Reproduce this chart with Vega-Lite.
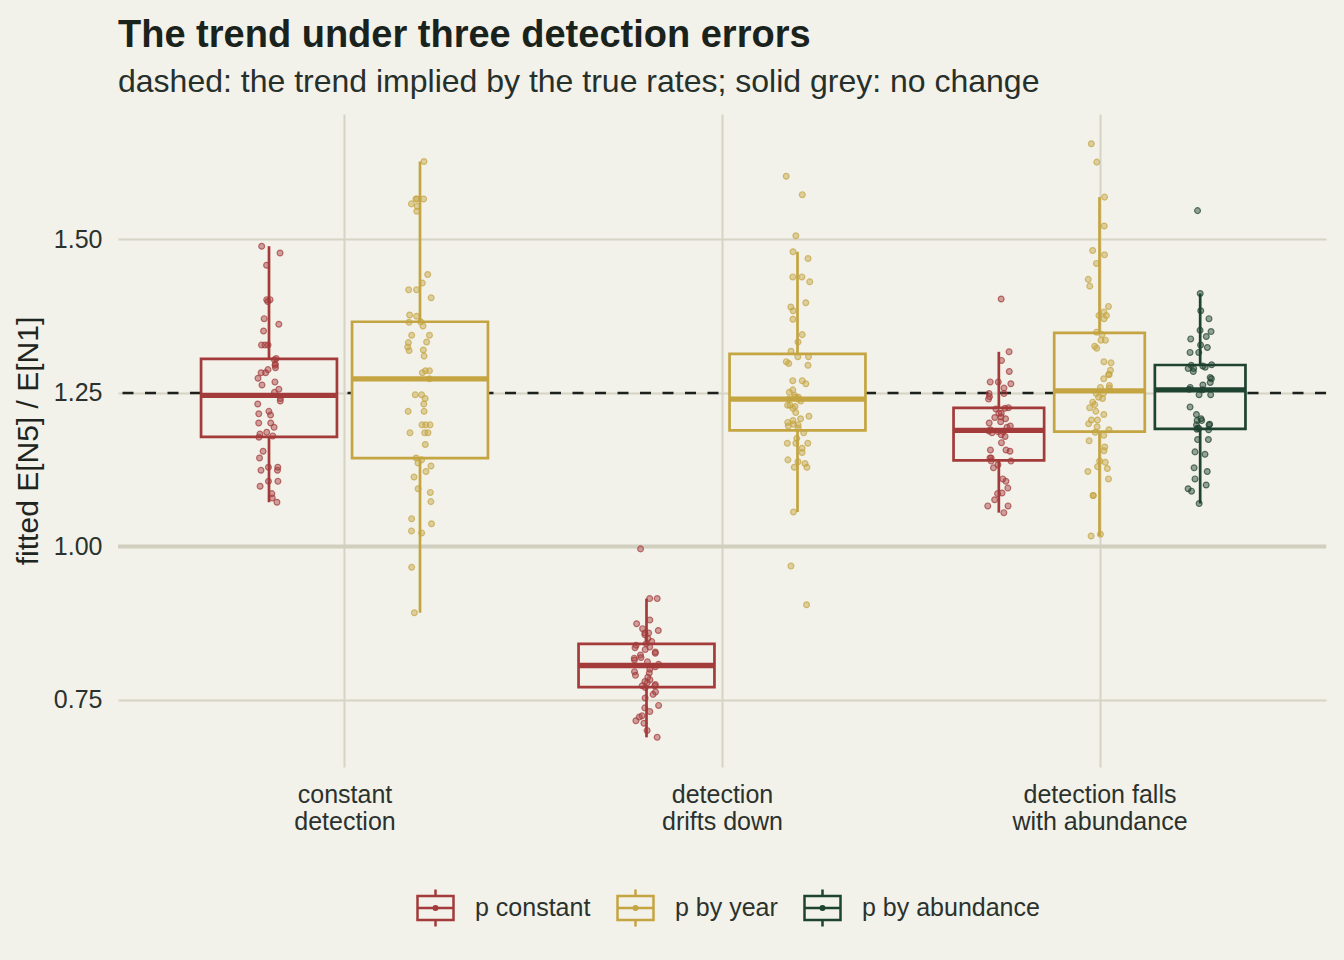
{
  "$schema": "https://vega.github.io/schema/vega-lite/v6.json",
  "width": 1208,
  "height": 653,
  "autosize": {"type": "none"},
  "padding": {"left": 118, "top": 114, "right": 18, "bottom": 193},
  "background": "#F2F1EA",
  "config": {
    "view": {"stroke": null},
    "font": "Liberation Sans"
  },
  "title": {
    "text": "The trend under three detection errors",
    "subtitle": "dashed: the trend implied by the true rates; solid grey: no change",
    "anchor": "start",
    "frame": "group",
    "font": "Liberation Sans",
    "fontSize": 38,
    "fontWeight": "bold",
    "color": "#1A221C",
    "subtitleFont": "Liberation Sans",
    "subtitleFontSize": 32,
    "subtitleColor": "#26302A",
    "subtitlePadding": 12,
    "offset": 16
  },
  "data": {
    "values": [
      {"scenario": "constant detection", "model": "p constant", "ratio": 1.489},
      {"scenario": "constant detection", "model": "p constant", "ratio": 1.478},
      {"scenario": "constant detection", "model": "p constant", "ratio": 1.458},
      {"scenario": "constant detection", "model": "p constant", "ratio": 1.402},
      {"scenario": "constant detection", "model": "p constant", "ratio": 1.402},
      {"scenario": "constant detection", "model": "p constant", "ratio": 1.399},
      {"scenario": "constant detection", "model": "p constant", "ratio": 1.371},
      {"scenario": "constant detection", "model": "p constant", "ratio": 1.362},
      {"scenario": "constant detection", "model": "p constant", "ratio": 1.351},
      {"scenario": "constant detection", "model": "p constant", "ratio": 1.328},
      {"scenario": "constant detection", "model": "p constant", "ratio": 1.328},
      {"scenario": "constant detection", "model": "p constant", "ratio": 1.328},
      {"scenario": "constant detection", "model": "p constant", "ratio": 1.306},
      {"scenario": "constant detection", "model": "p constant", "ratio": 1.304},
      {"scenario": "constant detection", "model": "p constant", "ratio": 1.297},
      {"scenario": "constant detection", "model": "p constant", "ratio": 1.295},
      {"scenario": "constant detection", "model": "p constant", "ratio": 1.291},
      {"scenario": "constant detection", "model": "p constant", "ratio": 1.288},
      {"scenario": "constant detection", "model": "p constant", "ratio": 1.283},
      {"scenario": "constant detection", "model": "p constant", "ratio": 1.283},
      {"scenario": "constant detection", "model": "p constant", "ratio": 1.274},
      {"scenario": "constant detection", "model": "p constant", "ratio": 1.268},
      {"scenario": "constant detection", "model": "p constant", "ratio": 1.263},
      {"scenario": "constant detection", "model": "p constant", "ratio": 1.256},
      {"scenario": "constant detection", "model": "p constant", "ratio": 1.251},
      {"scenario": "constant detection", "model": "p constant", "ratio": 1.241},
      {"scenario": "constant detection", "model": "p constant", "ratio": 1.237},
      {"scenario": "constant detection", "model": "p constant", "ratio": 1.232},
      {"scenario": "constant detection", "model": "p constant", "ratio": 1.220},
      {"scenario": "constant detection", "model": "p constant", "ratio": 1.216},
      {"scenario": "constant detection", "model": "p constant", "ratio": 1.214},
      {"scenario": "constant detection", "model": "p constant", "ratio": 1.201},
      {"scenario": "constant detection", "model": "p constant", "ratio": 1.201},
      {"scenario": "constant detection", "model": "p constant", "ratio": 1.194},
      {"scenario": "constant detection", "model": "p constant", "ratio": 1.186},
      {"scenario": "constant detection", "model": "p constant", "ratio": 1.183},
      {"scenario": "constant detection", "model": "p constant", "ratio": 1.180},
      {"scenario": "constant detection", "model": "p constant", "ratio": 1.178},
      {"scenario": "constant detection", "model": "p constant", "ratio": 1.155},
      {"scenario": "constant detection", "model": "p constant", "ratio": 1.144},
      {"scenario": "constant detection", "model": "p constant", "ratio": 1.129},
      {"scenario": "constant detection", "model": "p constant", "ratio": 1.129},
      {"scenario": "constant detection", "model": "p constant", "ratio": 1.124},
      {"scenario": "constant detection", "model": "p constant", "ratio": 1.124},
      {"scenario": "constant detection", "model": "p constant", "ratio": 1.106},
      {"scenario": "constant detection", "model": "p constant", "ratio": 1.106},
      {"scenario": "constant detection", "model": "p constant", "ratio": 1.098},
      {"scenario": "constant detection", "model": "p constant", "ratio": 1.086},
      {"scenario": "constant detection", "model": "p constant", "ratio": 1.079},
      {"scenario": "constant detection", "model": "p constant", "ratio": 1.072},
      {"scenario": "constant detection", "model": "p by year", "ratio": 1.627},
      {"scenario": "constant detection", "model": "p by year", "ratio": 1.566},
      {"scenario": "constant detection", "model": "p by year", "ratio": 1.566},
      {"scenario": "constant detection", "model": "p by year", "ratio": 1.566},
      {"scenario": "constant detection", "model": "p by year", "ratio": 1.558},
      {"scenario": "constant detection", "model": "p by year", "ratio": 1.554},
      {"scenario": "constant detection", "model": "p by year", "ratio": 1.546},
      {"scenario": "constant detection", "model": "p by year", "ratio": 1.443},
      {"scenario": "constant detection", "model": "p by year", "ratio": 1.429},
      {"scenario": "constant detection", "model": "p by year", "ratio": 1.418},
      {"scenario": "constant detection", "model": "p by year", "ratio": 1.418},
      {"scenario": "constant detection", "model": "p by year", "ratio": 1.405},
      {"scenario": "constant detection", "model": "p by year", "ratio": 1.377},
      {"scenario": "constant detection", "model": "p by year", "ratio": 1.375},
      {"scenario": "constant detection", "model": "p by year", "ratio": 1.366},
      {"scenario": "constant detection", "model": "p by year", "ratio": 1.365},
      {"scenario": "constant detection", "model": "p by year", "ratio": 1.359},
      {"scenario": "constant detection", "model": "p by year", "ratio": 1.344},
      {"scenario": "constant detection", "model": "p by year", "ratio": 1.344},
      {"scenario": "constant detection", "model": "p by year", "ratio": 1.333},
      {"scenario": "constant detection", "model": "p by year", "ratio": 1.332},
      {"scenario": "constant detection", "model": "p by year", "ratio": 1.325},
      {"scenario": "constant detection", "model": "p by year", "ratio": 1.320},
      {"scenario": "constant detection", "model": "p by year", "ratio": 1.319},
      {"scenario": "constant detection", "model": "p by year", "ratio": 1.310},
      {"scenario": "constant detection", "model": "p by year", "ratio": 1.286},
      {"scenario": "constant detection", "model": "p by year", "ratio": 1.286},
      {"scenario": "constant detection", "model": "p by year", "ratio": 1.283},
      {"scenario": "constant detection", "model": "p by year", "ratio": 1.273},
      {"scenario": "constant detection", "model": "p by year", "ratio": 1.247},
      {"scenario": "constant detection", "model": "p by year", "ratio": 1.247},
      {"scenario": "constant detection", "model": "p by year", "ratio": 1.241},
      {"scenario": "constant detection", "model": "p by year", "ratio": 1.232},
      {"scenario": "constant detection", "model": "p by year", "ratio": 1.220},
      {"scenario": "constant detection", "model": "p by year", "ratio": 1.220},
      {"scenario": "constant detection", "model": "p by year", "ratio": 1.198},
      {"scenario": "constant detection", "model": "p by year", "ratio": 1.198},
      {"scenario": "constant detection", "model": "p by year", "ratio": 1.198},
      {"scenario": "constant detection", "model": "p by year", "ratio": 1.185},
      {"scenario": "constant detection", "model": "p by year", "ratio": 1.185},
      {"scenario": "constant detection", "model": "p by year", "ratio": 1.185},
      {"scenario": "constant detection", "model": "p by year", "ratio": 1.166},
      {"scenario": "constant detection", "model": "p by year", "ratio": 1.144},
      {"scenario": "constant detection", "model": "p by year", "ratio": 1.141},
      {"scenario": "constant detection", "model": "p by year", "ratio": 1.136},
      {"scenario": "constant detection", "model": "p by year", "ratio": 1.131},
      {"scenario": "constant detection", "model": "p by year", "ratio": 1.122},
      {"scenario": "constant detection", "model": "p by year", "ratio": 1.113},
      {"scenario": "constant detection", "model": "p by year", "ratio": 1.094},
      {"scenario": "constant detection", "model": "p by year", "ratio": 1.088},
      {"scenario": "constant detection", "model": "p by year", "ratio": 1.073},
      {"scenario": "constant detection", "model": "p by year", "ratio": 1.045},
      {"scenario": "constant detection", "model": "p by year", "ratio": 1.037},
      {"scenario": "constant detection", "model": "p by year", "ratio": 1.025},
      {"scenario": "constant detection", "model": "p by year", "ratio": 1.022},
      {"scenario": "constant detection", "model": "p by year", "ratio": 0.966},
      {"scenario": "constant detection", "model": "p by year", "ratio": 0.892},
      {"scenario": "detection drifts down", "model": "p constant", "ratio": 0.996},
      {"scenario": "detection drifts down", "model": "p constant", "ratio": 0.915},
      {"scenario": "detection drifts down", "model": "p constant", "ratio": 0.915},
      {"scenario": "detection drifts down", "model": "p constant", "ratio": 0.880},
      {"scenario": "detection drifts down", "model": "p constant", "ratio": 0.874},
      {"scenario": "detection drifts down", "model": "p constant", "ratio": 0.866},
      {"scenario": "detection drifts down", "model": "p constant", "ratio": 0.863},
      {"scenario": "detection drifts down", "model": "p constant", "ratio": 0.859},
      {"scenario": "detection drifts down", "model": "p constant", "ratio": 0.859},
      {"scenario": "detection drifts down", "model": "p constant", "ratio": 0.856},
      {"scenario": "detection drifts down", "model": "p constant", "ratio": 0.850},
      {"scenario": "detection drifts down", "model": "p constant", "ratio": 0.845},
      {"scenario": "detection drifts down", "model": "p constant", "ratio": 0.842},
      {"scenario": "detection drifts down", "model": "p constant", "ratio": 0.839},
      {"scenario": "detection drifts down", "model": "p constant", "ratio": 0.836},
      {"scenario": "detection drifts down", "model": "p constant", "ratio": 0.835},
      {"scenario": "detection drifts down", "model": "p constant", "ratio": 0.832},
      {"scenario": "detection drifts down", "model": "p constant", "ratio": 0.828},
      {"scenario": "detection drifts down", "model": "p constant", "ratio": 0.826},
      {"scenario": "detection drifts down", "model": "p constant", "ratio": 0.823},
      {"scenario": "detection drifts down", "model": "p constant", "ratio": 0.819},
      {"scenario": "detection drifts down", "model": "p constant", "ratio": 0.818},
      {"scenario": "detection drifts down", "model": "p constant", "ratio": 0.815},
      {"scenario": "detection drifts down", "model": "p constant", "ratio": 0.812},
      {"scenario": "detection drifts down", "model": "p constant", "ratio": 0.808},
      {"scenario": "detection drifts down", "model": "p constant", "ratio": 0.804},
      {"scenario": "detection drifts down", "model": "p constant", "ratio": 0.800},
      {"scenario": "detection drifts down", "model": "p constant", "ratio": 0.796},
      {"scenario": "detection drifts down", "model": "p constant", "ratio": 0.794},
      {"scenario": "detection drifts down", "model": "p constant", "ratio": 0.790},
      {"scenario": "detection drifts down", "model": "p constant", "ratio": 0.787},
      {"scenario": "detection drifts down", "model": "p constant", "ratio": 0.783},
      {"scenario": "detection drifts down", "model": "p constant", "ratio": 0.780},
      {"scenario": "detection drifts down", "model": "p constant", "ratio": 0.778},
      {"scenario": "detection drifts down", "model": "p constant", "ratio": 0.775},
      {"scenario": "detection drifts down", "model": "p constant", "ratio": 0.773},
      {"scenario": "detection drifts down", "model": "p constant", "ratio": 0.773},
      {"scenario": "detection drifts down", "model": "p constant", "ratio": 0.770},
      {"scenario": "detection drifts down", "model": "p constant", "ratio": 0.763},
      {"scenario": "detection drifts down", "model": "p constant", "ratio": 0.759},
      {"scenario": "detection drifts down", "model": "p constant", "ratio": 0.753},
      {"scenario": "detection drifts down", "model": "p constant", "ratio": 0.741},
      {"scenario": "detection drifts down", "model": "p constant", "ratio": 0.737},
      {"scenario": "detection drifts down", "model": "p constant", "ratio": 0.731},
      {"scenario": "detection drifts down", "model": "p constant", "ratio": 0.724},
      {"scenario": "detection drifts down", "model": "p constant", "ratio": 0.722},
      {"scenario": "detection drifts down", "model": "p constant", "ratio": 0.716},
      {"scenario": "detection drifts down", "model": "p constant", "ratio": 0.712},
      {"scenario": "detection drifts down", "model": "p constant", "ratio": 0.700},
      {"scenario": "detection drifts down", "model": "p constant", "ratio": 0.689},
      {"scenario": "detection drifts down", "model": "p by year", "ratio": 1.603},
      {"scenario": "detection drifts down", "model": "p by year", "ratio": 1.573},
      {"scenario": "detection drifts down", "model": "p by year", "ratio": 1.506},
      {"scenario": "detection drifts down", "model": "p by year", "ratio": 1.480},
      {"scenario": "detection drifts down", "model": "p by year", "ratio": 1.469},
      {"scenario": "detection drifts down", "model": "p by year", "ratio": 1.439},
      {"scenario": "detection drifts down", "model": "p by year", "ratio": 1.439},
      {"scenario": "detection drifts down", "model": "p by year", "ratio": 1.431},
      {"scenario": "detection drifts down", "model": "p by year", "ratio": 1.397},
      {"scenario": "detection drifts down", "model": "p by year", "ratio": 1.390},
      {"scenario": "detection drifts down", "model": "p by year", "ratio": 1.384},
      {"scenario": "detection drifts down", "model": "p by year", "ratio": 1.370},
      {"scenario": "detection drifts down", "model": "p by year", "ratio": 1.345},
      {"scenario": "detection drifts down", "model": "p by year", "ratio": 1.333},
      {"scenario": "detection drifts down", "model": "p by year", "ratio": 1.318},
      {"scenario": "detection drifts down", "model": "p by year", "ratio": 1.309},
      {"scenario": "detection drifts down", "model": "p by year", "ratio": 1.309},
      {"scenario": "detection drifts down", "model": "p by year", "ratio": 1.301},
      {"scenario": "detection drifts down", "model": "p by year", "ratio": 1.298},
      {"scenario": "detection drifts down", "model": "p by year", "ratio": 1.295},
      {"scenario": "detection drifts down", "model": "p by year", "ratio": 1.270},
      {"scenario": "detection drifts down", "model": "p by year", "ratio": 1.270},
      {"scenario": "detection drifts down", "model": "p by year", "ratio": 1.265},
      {"scenario": "detection drifts down", "model": "p by year", "ratio": 1.255},
      {"scenario": "detection drifts down", "model": "p by year", "ratio": 1.251},
      {"scenario": "detection drifts down", "model": "p by year", "ratio": 1.246},
      {"scenario": "detection drifts down", "model": "p by year", "ratio": 1.243},
      {"scenario": "detection drifts down", "model": "p by year", "ratio": 1.243},
      {"scenario": "detection drifts down", "model": "p by year", "ratio": 1.240},
      {"scenario": "detection drifts down", "model": "p by year", "ratio": 1.240},
      {"scenario": "detection drifts down", "model": "p by year", "ratio": 1.237},
      {"scenario": "detection drifts down", "model": "p by year", "ratio": 1.230},
      {"scenario": "detection drifts down", "model": "p by year", "ratio": 1.230},
      {"scenario": "detection drifts down", "model": "p by year", "ratio": 1.228},
      {"scenario": "detection drifts down", "model": "p by year", "ratio": 1.225},
      {"scenario": "detection drifts down", "model": "p by year", "ratio": 1.218},
      {"scenario": "detection drifts down", "model": "p by year", "ratio": 1.212},
      {"scenario": "detection drifts down", "model": "p by year", "ratio": 1.208},
      {"scenario": "detection drifts down", "model": "p by year", "ratio": 1.205},
      {"scenario": "detection drifts down", "model": "p by year", "ratio": 1.202},
      {"scenario": "detection drifts down", "model": "p by year", "ratio": 1.199},
      {"scenario": "detection drifts down", "model": "p by year", "ratio": 1.198},
      {"scenario": "detection drifts down", "model": "p by year", "ratio": 1.196},
      {"scenario": "detection drifts down", "model": "p by year", "ratio": 1.193},
      {"scenario": "detection drifts down", "model": "p by year", "ratio": 1.185},
      {"scenario": "detection drifts down", "model": "p by year", "ratio": 1.176},
      {"scenario": "detection drifts down", "model": "p by year", "ratio": 1.168},
      {"scenario": "detection drifts down", "model": "p by year", "ratio": 1.168},
      {"scenario": "detection drifts down", "model": "p by year", "ratio": 1.168},
      {"scenario": "detection drifts down", "model": "p by year", "ratio": 1.160},
      {"scenario": "detection drifts down", "model": "p by year", "ratio": 1.153},
      {"scenario": "detection drifts down", "model": "p by year", "ratio": 1.141},
      {"scenario": "detection drifts down", "model": "p by year", "ratio": 1.138},
      {"scenario": "detection drifts down", "model": "p by year", "ratio": 1.135},
      {"scenario": "detection drifts down", "model": "p by year", "ratio": 1.129},
      {"scenario": "detection drifts down", "model": "p by year", "ratio": 1.129},
      {"scenario": "detection drifts down", "model": "p by year", "ratio": 1.056},
      {"scenario": "detection drifts down", "model": "p by year", "ratio": 0.968},
      {"scenario": "detection drifts down", "model": "p by year", "ratio": 0.905},
      {"scenario": "detection falls with abundance", "model": "p constant", "ratio": 1.403},
      {"scenario": "detection falls with abundance", "model": "p constant", "ratio": 1.317},
      {"scenario": "detection falls with abundance", "model": "p constant", "ratio": 1.303},
      {"scenario": "detection falls with abundance", "model": "p constant", "ratio": 1.285},
      {"scenario": "detection falls with abundance", "model": "p constant", "ratio": 1.268},
      {"scenario": "detection falls with abundance", "model": "p constant", "ratio": 1.268},
      {"scenario": "detection falls with abundance", "model": "p constant", "ratio": 1.265},
      {"scenario": "detection falls with abundance", "model": "p constant", "ratio": 1.258},
      {"scenario": "detection falls with abundance", "model": "p constant", "ratio": 1.249},
      {"scenario": "detection falls with abundance", "model": "p constant", "ratio": 1.249},
      {"scenario": "detection falls with abundance", "model": "p constant", "ratio": 1.244},
      {"scenario": "detection falls with abundance", "model": "p constant", "ratio": 1.240},
      {"scenario": "detection falls with abundance", "model": "p constant", "ratio": 1.226},
      {"scenario": "detection falls with abundance", "model": "p constant", "ratio": 1.225},
      {"scenario": "detection falls with abundance", "model": "p constant", "ratio": 1.224},
      {"scenario": "detection falls with abundance", "model": "p constant", "ratio": 1.217},
      {"scenario": "detection falls with abundance", "model": "p constant", "ratio": 1.217},
      {"scenario": "detection falls with abundance", "model": "p constant", "ratio": 1.211},
      {"scenario": "detection falls with abundance", "model": "p constant", "ratio": 1.210},
      {"scenario": "detection falls with abundance", "model": "p constant", "ratio": 1.208},
      {"scenario": "detection falls with abundance", "model": "p constant", "ratio": 1.203},
      {"scenario": "detection falls with abundance", "model": "p constant", "ratio": 1.201},
      {"scenario": "detection falls with abundance", "model": "p constant", "ratio": 1.196},
      {"scenario": "detection falls with abundance", "model": "p constant", "ratio": 1.194},
      {"scenario": "detection falls with abundance", "model": "p constant", "ratio": 1.190},
      {"scenario": "detection falls with abundance", "model": "p constant", "ratio": 1.188},
      {"scenario": "detection falls with abundance", "model": "p constant", "ratio": 1.187},
      {"scenario": "detection falls with abundance", "model": "p constant", "ratio": 1.187},
      {"scenario": "detection falls with abundance", "model": "p constant", "ratio": 1.185},
      {"scenario": "detection falls with abundance", "model": "p constant", "ratio": 1.182},
      {"scenario": "detection falls with abundance", "model": "p constant", "ratio": 1.179},
      {"scenario": "detection falls with abundance", "model": "p constant", "ratio": 1.169},
      {"scenario": "detection falls with abundance", "model": "p constant", "ratio": 1.157},
      {"scenario": "detection falls with abundance", "model": "p constant", "ratio": 1.157},
      {"scenario": "detection falls with abundance", "model": "p constant", "ratio": 1.155},
      {"scenario": "detection falls with abundance", "model": "p constant", "ratio": 1.144},
      {"scenario": "detection falls with abundance", "model": "p constant", "ratio": 1.144},
      {"scenario": "detection falls with abundance", "model": "p constant", "ratio": 1.139},
      {"scenario": "detection falls with abundance", "model": "p constant", "ratio": 1.139},
      {"scenario": "detection falls with abundance", "model": "p constant", "ratio": 1.133},
      {"scenario": "detection falls with abundance", "model": "p constant", "ratio": 1.128},
      {"scenario": "detection falls with abundance", "model": "p constant", "ratio": 1.110},
      {"scenario": "detection falls with abundance", "model": "p constant", "ratio": 1.106},
      {"scenario": "detection falls with abundance", "model": "p constant", "ratio": 1.095},
      {"scenario": "detection falls with abundance", "model": "p constant", "ratio": 1.087},
      {"scenario": "detection falls with abundance", "model": "p constant", "ratio": 1.086},
      {"scenario": "detection falls with abundance", "model": "p constant", "ratio": 1.076},
      {"scenario": "detection falls with abundance", "model": "p constant", "ratio": 1.066},
      {"scenario": "detection falls with abundance", "model": "p constant", "ratio": 1.066},
      {"scenario": "detection falls with abundance", "model": "p constant", "ratio": 1.055},
      {"scenario": "detection falls with abundance", "model": "p by year", "ratio": 1.656},
      {"scenario": "detection falls with abundance", "model": "p by year", "ratio": 1.626},
      {"scenario": "detection falls with abundance", "model": "p by year", "ratio": 1.569},
      {"scenario": "detection falls with abundance", "model": "p by year", "ratio": 1.522},
      {"scenario": "detection falls with abundance", "model": "p by year", "ratio": 1.482},
      {"scenario": "detection falls with abundance", "model": "p by year", "ratio": 1.475},
      {"scenario": "detection falls with abundance", "model": "p by year", "ratio": 1.461},
      {"scenario": "detection falls with abundance", "model": "p by year", "ratio": 1.435},
      {"scenario": "detection falls with abundance", "model": "p by year", "ratio": 1.424},
      {"scenario": "detection falls with abundance", "model": "p by year", "ratio": 1.391},
      {"scenario": "detection falls with abundance", "model": "p by year", "ratio": 1.382},
      {"scenario": "detection falls with abundance", "model": "p by year", "ratio": 1.376},
      {"scenario": "detection falls with abundance", "model": "p by year", "ratio": 1.376},
      {"scenario": "detection falls with abundance", "model": "p by year", "ratio": 1.371},
      {"scenario": "detection falls with abundance", "model": "p by year", "ratio": 1.349},
      {"scenario": "detection falls with abundance", "model": "p by year", "ratio": 1.345},
      {"scenario": "detection falls with abundance", "model": "p by year", "ratio": 1.336},
      {"scenario": "detection falls with abundance", "model": "p by year", "ratio": 1.336},
      {"scenario": "detection falls with abundance", "model": "p by year", "ratio": 1.326},
      {"scenario": "detection falls with abundance", "model": "p by year", "ratio": 1.323},
      {"scenario": "detection falls with abundance", "model": "p by year", "ratio": 1.301},
      {"scenario": "detection falls with abundance", "model": "p by year", "ratio": 1.299},
      {"scenario": "detection falls with abundance", "model": "p by year", "ratio": 1.287},
      {"scenario": "detection falls with abundance", "model": "p by year", "ratio": 1.280},
      {"scenario": "detection falls with abundance", "model": "p by year", "ratio": 1.280},
      {"scenario": "detection falls with abundance", "model": "p by year", "ratio": 1.273},
      {"scenario": "detection falls with abundance", "model": "p by year", "ratio": 1.262},
      {"scenario": "detection falls with abundance", "model": "p by year", "ratio": 1.259},
      {"scenario": "detection falls with abundance", "model": "p by year", "ratio": 1.258},
      {"scenario": "detection falls with abundance", "model": "p by year", "ratio": 1.249},
      {"scenario": "detection falls with abundance", "model": "p by year", "ratio": 1.249},
      {"scenario": "detection falls with abundance", "model": "p by year", "ratio": 1.243},
      {"scenario": "detection falls with abundance", "model": "p by year", "ratio": 1.241},
      {"scenario": "detection falls with abundance", "model": "p by year", "ratio": 1.235},
      {"scenario": "detection falls with abundance", "model": "p by year", "ratio": 1.231},
      {"scenario": "detection falls with abundance", "model": "p by year", "ratio": 1.226},
      {"scenario": "detection falls with abundance", "model": "p by year", "ratio": 1.220},
      {"scenario": "detection falls with abundance", "model": "p by year", "ratio": 1.215},
      {"scenario": "detection falls with abundance", "model": "p by year", "ratio": 1.206},
      {"scenario": "detection falls with abundance", "model": "p by year", "ratio": 1.206},
      {"scenario": "detection falls with abundance", "model": "p by year", "ratio": 1.200},
      {"scenario": "detection falls with abundance", "model": "p by year", "ratio": 1.195},
      {"scenario": "detection falls with abundance", "model": "p by year", "ratio": 1.190},
      {"scenario": "detection falls with abundance", "model": "p by year", "ratio": 1.186},
      {"scenario": "detection falls with abundance", "model": "p by year", "ratio": 1.181},
      {"scenario": "detection falls with abundance", "model": "p by year", "ratio": 1.172},
      {"scenario": "detection falls with abundance", "model": "p by year", "ratio": 1.162},
      {"scenario": "detection falls with abundance", "model": "p by year", "ratio": 1.156},
      {"scenario": "detection falls with abundance", "model": "p by year", "ratio": 1.139},
      {"scenario": "detection falls with abundance", "model": "p by year", "ratio": 1.137},
      {"scenario": "detection falls with abundance", "model": "p by year", "ratio": 1.130},
      {"scenario": "detection falls with abundance", "model": "p by year", "ratio": 1.127},
      {"scenario": "detection falls with abundance", "model": "p by year", "ratio": 1.122},
      {"scenario": "detection falls with abundance", "model": "p by year", "ratio": 1.110},
      {"scenario": "detection falls with abundance", "model": "p by year", "ratio": 1.083},
      {"scenario": "detection falls with abundance", "model": "p by year", "ratio": 1.083},
      {"scenario": "detection falls with abundance", "model": "p by year", "ratio": 1.020},
      {"scenario": "detection falls with abundance", "model": "p by year", "ratio": 1.017},
      {"scenario": "detection falls with abundance", "model": "p by abundance", "ratio": 1.547},
      {"scenario": "detection falls with abundance", "model": "p by abundance", "ratio": 1.412},
      {"scenario": "detection falls with abundance", "model": "p by abundance", "ratio": 1.384},
      {"scenario": "detection falls with abundance", "model": "p by abundance", "ratio": 1.371},
      {"scenario": "detection falls with abundance", "model": "p by abundance", "ratio": 1.352},
      {"scenario": "detection falls with abundance", "model": "p by abundance", "ratio": 1.350},
      {"scenario": "detection falls with abundance", "model": "p by abundance", "ratio": 1.342},
      {"scenario": "detection falls with abundance", "model": "p by abundance", "ratio": 1.338},
      {"scenario": "detection falls with abundance", "model": "p by abundance", "ratio": 1.328},
      {"scenario": "detection falls with abundance", "model": "p by abundance", "ratio": 1.324},
      {"scenario": "detection falls with abundance", "model": "p by abundance", "ratio": 1.316},
      {"scenario": "detection falls with abundance", "model": "p by abundance", "ratio": 1.316},
      {"scenario": "detection falls with abundance", "model": "p by abundance", "ratio": 1.296},
      {"scenario": "detection falls with abundance", "model": "p by abundance", "ratio": 1.295},
      {"scenario": "detection falls with abundance", "model": "p by abundance", "ratio": 1.294},
      {"scenario": "detection falls with abundance", "model": "p by abundance", "ratio": 1.292},
      {"scenario": "detection falls with abundance", "model": "p by abundance", "ratio": 1.290},
      {"scenario": "detection falls with abundance", "model": "p by abundance", "ratio": 1.290},
      {"scenario": "detection falls with abundance", "model": "p by abundance", "ratio": 1.285},
      {"scenario": "detection falls with abundance", "model": "p by abundance", "ratio": 1.275},
      {"scenario": "detection falls with abundance", "model": "p by abundance", "ratio": 1.273},
      {"scenario": "detection falls with abundance", "model": "p by abundance", "ratio": 1.267},
      {"scenario": "detection falls with abundance", "model": "p by abundance", "ratio": 1.263},
      {"scenario": "detection falls with abundance", "model": "p by abundance", "ratio": 1.259},
      {"scenario": "detection falls with abundance", "model": "p by abundance", "ratio": 1.256},
      {"scenario": "detection falls with abundance", "model": "p by abundance", "ratio": 1.255},
      {"scenario": "detection falls with abundance", "model": "p by abundance", "ratio": 1.247},
      {"scenario": "detection falls with abundance", "model": "p by abundance", "ratio": 1.247},
      {"scenario": "detection falls with abundance", "model": "p by abundance", "ratio": 1.227},
      {"scenario": "detection falls with abundance", "model": "p by abundance", "ratio": 1.215},
      {"scenario": "detection falls with abundance", "model": "p by abundance", "ratio": 1.208},
      {"scenario": "detection falls with abundance", "model": "p by abundance", "ratio": 1.205},
      {"scenario": "detection falls with abundance", "model": "p by abundance", "ratio": 1.205},
      {"scenario": "detection falls with abundance", "model": "p by abundance", "ratio": 1.199},
      {"scenario": "detection falls with abundance", "model": "p by abundance", "ratio": 1.198},
      {"scenario": "detection falls with abundance", "model": "p by abundance", "ratio": 1.198},
      {"scenario": "detection falls with abundance", "model": "p by abundance", "ratio": 1.193},
      {"scenario": "detection falls with abundance", "model": "p by abundance", "ratio": 1.192},
      {"scenario": "detection falls with abundance", "model": "p by abundance", "ratio": 1.191},
      {"scenario": "detection falls with abundance", "model": "p by abundance", "ratio": 1.190},
      {"scenario": "detection falls with abundance", "model": "p by abundance", "ratio": 1.174},
      {"scenario": "detection falls with abundance", "model": "p by abundance", "ratio": 1.174},
      {"scenario": "detection falls with abundance", "model": "p by abundance", "ratio": 1.154},
      {"scenario": "detection falls with abundance", "model": "p by abundance", "ratio": 1.150},
      {"scenario": "detection falls with abundance", "model": "p by abundance", "ratio": 1.128},
      {"scenario": "detection falls with abundance", "model": "p by abundance", "ratio": 1.122},
      {"scenario": "detection falls with abundance", "model": "p by abundance", "ratio": 1.110},
      {"scenario": "detection falls with abundance", "model": "p by abundance", "ratio": 1.100},
      {"scenario": "detection falls with abundance", "model": "p by abundance", "ratio": 1.094},
      {"scenario": "detection falls with abundance", "model": "p by abundance", "ratio": 1.090},
      {"scenario": "detection falls with abundance", "model": "p by abundance", "ratio": 1.070}
    ]
  },
  "transform": [
    {"calculate": "indexof(['constant detection', 'detection drifts down', 'detection falls with abundance'], datum.scenario) + 1", "as": "si"},
    {"calculate": "indexof(['p constant', 'p by year', 'p by abundance'], datum.model)", "as": "mi"},
    {"joinaggregate": [{"op": "distinct", "field": "model", "as": "nm"}], "groupby": ["scenario"]},
    {"calculate": "datum.si + (datum.mi - (datum.nm - 1) / 2) * 0.8 / datum.nm", "as": "pos"},
    {"calculate": "0.36 / datum.nm", "as": "hw"}
  ],
  "layer": [
    {
      "data": {"values": [{"ref": 1}]},
      "mark": {"type": "rule", "strokeWidth": 4, "color": "#D1D0BE"},
      "encoding": {"y": {"datum": 1}}
    },
    {
      "data": {"values": [{"ref": 1.25}]},
      "mark": {"type": "rule", "strokeWidth": 2.5, "strokeDash": [11, 11.5], "color": "#1C211E"},
      "encoding": {"y": {"datum": 1.25}}
    },
    {
      "transform": [
        {"joinaggregate": [
          {"op": "q1", "field": "ratio", "as": "lq"},
          {"op": "q3", "field": "ratio", "as": "uq"}
        ], "groupby": ["scenario", "model"]},
        {"calculate": "datum.ratio >= datum.lq - 1.5 * (datum.uq - datum.lq) ? datum.ratio : null", "as": "inlo"},
        {"calculate": "datum.ratio <= datum.uq + 1.5 * (datum.uq - datum.lq) ? datum.ratio : null", "as": "inhi"},
        {"aggregate": [
          {"op": "q1", "field": "ratio", "as": "q1"},
          {"op": "median", "field": "ratio", "as": "med"},
          {"op": "q3", "field": "ratio", "as": "q3"},
          {"op": "min", "field": "inlo", "as": "lo"},
          {"op": "max", "field": "inhi", "as": "hi"}
        ], "groupby": ["scenario", "model", "pos", "hw"]},
        {"calculate": "datum.pos - datum.hw", "as": "x0"},
        {"calculate": "datum.pos + datum.hw", "as": "x1"}
      ],
      "encoding": {
        "stroke": {
          "field": "model",
          "type": "nominal",
          "scale": {"domain": ["p constant", "p by year", "p by abundance"], "range": ["#A33B3B", "#C4A542", "#1F4331"]},
          "legend": {
            "title": null,
            "orient": "none",
            "direction": "horizontal",
            "legendX": 298,
            "legendY": 774,
            "padding": 0,
            "symbolType": "M-1.07,-0.667H1.07 M1,-0.737V0.737 M1.07,0.667H-1.07 M-1,0.737V-0.737 M-1,0H1 M0,-0.667V-1.03 M0,0.667V1.03 M0.1,0A0.1,0.1 0 1,1 -0.1,0A0.1,0.1 0 1,1 0.1,0Z",
            "symbolSize": 1296,
            "symbolStrokeWidth": 2.5,
            "symbolOpacity": 1,
            "labelFont": "Liberation Sans",
            "labelFontSize": 25,
            "labelColor": "#2B322D",
            "labelLimit": 400,
            "labelOffset": 20,
            "columnPadding": 20
          }
        }
      },
      "layer": [
        {
          "mark": {"type": "rule", "strokeWidth": 2.7},
          "encoding": {
            "x": {"field": "pos", "type": "quantitative"},
            "y": {"field": "lo", "type": "quantitative"},
            "y2": {"field": "q1"}
          }
        },
        {
          "mark": {"type": "rule", "strokeWidth": 2.7},
          "encoding": {
            "x": {"field": "pos", "type": "quantitative"},
            "y": {"field": "q3", "type": "quantitative"},
            "y2": {"field": "hi"}
          }
        },
        {
          "mark": {"type": "rect", "fill": "#F2F1EA", "strokeWidth": 2.7},
          "encoding": {
            "x": {"field": "x0", "type": "quantitative"},
            "x2": {"field": "x1"},
            "y": {"field": "q1", "type": "quantitative"},
            "y2": {"field": "q3"}
          }
        },
        {
          "mark": {"type": "rule", "strokeWidth": 5.3},
          "encoding": {
            "x": {"field": "x0", "type": "quantitative"},
            "x2": {"field": "x1"},
            "y": {"field": "med", "type": "quantitative"}
          }
        }
      ]
    },
    {
      "transform": [
        {"window": [{"op": "row_number", "as": "rn"}], "groupby": ["scenario", "model"]},
        {"calculate": "sin(datum.rn * 12.9898 + datum.mi * 78.233 + datum.si * 3.17) * 43758.5453", "as": "h"},
        {"calculate": "datum.pos + (datum.h - floor(datum.h) - 0.5) * 0.065", "as": "jx"}
      ],
      "mark": {"type": "point", "size": 34, "fillOpacity": 0.45, "strokeWidth": 1.2, "strokeOpacity": 0.7},
      "encoding": {
        "x": {"field": "jx", "type": "quantitative"},
        "y": {"field": "ratio", "type": "quantitative"},
        "fill": {
          "field": "model",
          "type": "nominal",
          "scale": {"domain": ["p constant", "p by year", "p by abundance"], "range": ["#A33B3B", "#C4A542", "#1F4331"]},
          "legend": null
        },
        "stroke": {"field": "model", "type": "nominal"}
      }
    }
  ],
  "encoding": {
    "x": {
      "type": "quantitative",
      "scale": {"domain": [0.4, 3.6], "nice": false, "zero": false},
      "axis": {
        "title": null,
        "values": [1, 2, 3],
        "labelExpr": "datum.value == 1 ? ['constant', 'detection'] : datum.value == 2 ? ['detection', 'drifts down'] : ['detection falls', 'with abundance']",
        "grid": true,
        "gridColor": "#D6D4C4",
        "gridWidth": 2,
        "domain": false,
        "ticks": false,
        "labelFont": "Liberation Sans",
        "labelFontSize": 25,
        "labelLineHeight": 27,
        "labelColor": "#2B322D",
        "labelPadding": 15
      }
    },
    "y": {
      "type": "quantitative",
      "scale": {"domain": [0.6407, 1.7044], "nice": false, "zero": false},
      "axis": {
        "title": "fitted E[N5] / E[N1]",
        "values": [0.75, 1, 1.25, 1.5],
        "format": ".2f",
        "grid": true,
        "gridColor": "#D6D4C4",
        "gridWidth": 2,
        "domain": false,
        "ticks": false,
        "labelFont": "Liberation Sans",
        "labelFontSize": 25,
        "labelColor": "#2B322D",
        "labelPadding": 16,
        "titleFont": "Liberation Sans",
        "titleFontSize": 30,
        "titleFontWeight": "normal",
        "titleColor": "#1E2520",
        "titlePadding": 10
      }
    }
  }
}
